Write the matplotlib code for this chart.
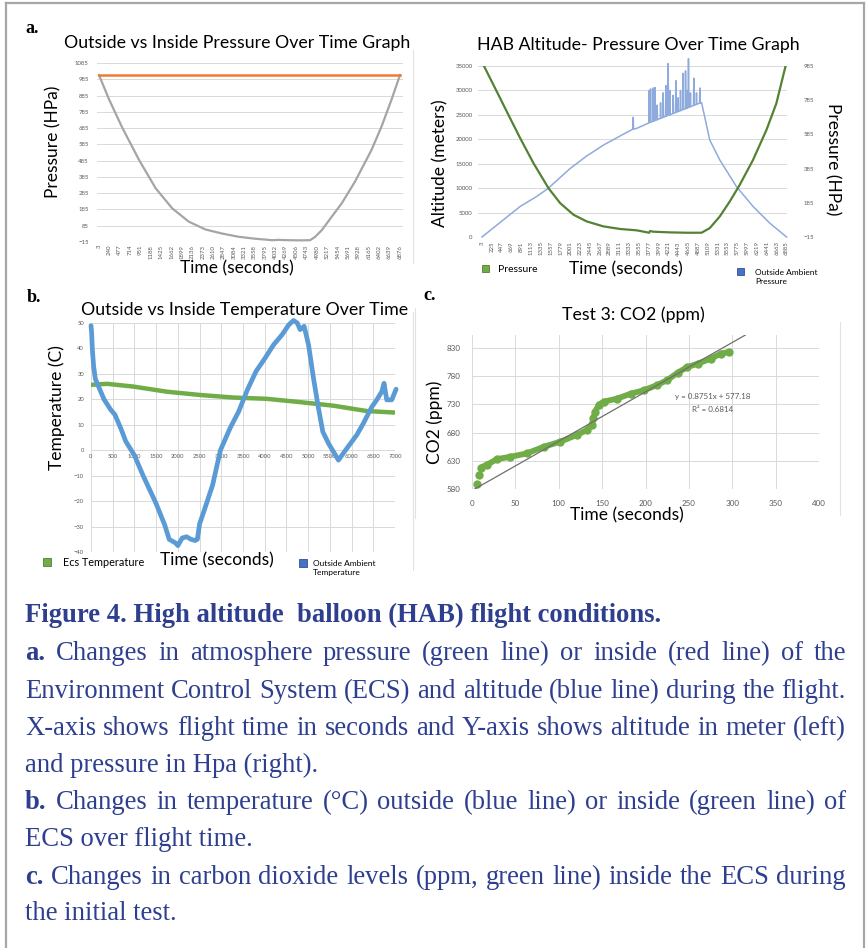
import numpy as np
import matplotlib
matplotlib.use('Agg')
import matplotlib.pyplot as plt
from matplotlib.patches import Rectangle

W, H = 867, 948

# panel a (left): outside / inside pressure, hPa
press_out_time = [3, 231, 535, 914, 1294, 1674, 2053, 2433, 2813, 3193, 3572, 3800,
                  3952, 4100, 4332, 4600, 4825, 4939, 5091, 5319, 5547, 5851, 6230,
                  6458, 6686, 6876]
press_out_val = [1011, 862, 687, 491, 316, 192, 110, 62, 37, 17, 5, 0, -4, -2, -4,
                 -5, -4, 17, 58, 141, 223, 357, 553, 697, 862, 1011]
press_in_time = [3, 6876]
press_in_val = [1012, 1012]
time_ticks_a = list(range(3, 6877, 237))

# panel a (right): altitude (m) and pressure (hPa)
alt_time = [3, 489, 865, 1241, 1504, 1992, 2368, 2744, 3120, 3496, 3760, 4200, 4600,
            4965, 5150, 5376, 5752, 6128, 6504, 6885]
alt_val = [0, 3530, 6250, 8300, 10000, 14000, 16580, 18800, 20660, 22220, 23300,
           24900, 26300, 27500, 19845, 15770, 10330, 6250, 2850, 0]
# short altitude spikes near float altitude
spike_time = [3421, 3782, 3812, 3872, 3910, 3962, 4038, 4098, 4158, 4211, 4248, 4323,
              4383, 4436, 4489, 4549, 4602, 4647, 4669, 4714, 4789, 4850, 4925]
spike_base = [22100, 23400, 23500, 23700, 23830, 24010, 24280, 24490, 24700, 24890,
              25020, 25290, 25500, 25690, 25870, 26090, 26270, 26430, 26510, 26670,
              26930, 27150, 27410]
spike_peak = [24500, 30000, 30300, 30500, 30600, 27000, 27500, 29500, 31000, 35500,
              30000, 29000, 32000, 28500, 30000, 33500, 34000, 30000, 36500, 29500,
              32500, 29500, 30500]
hab_p_time = [3, 341, 642, 868, 1168, 1507, 1770, 2071, 2371, 2747, 3123, 3499, 3780,
              3800, 3875, 4251, 4627, 4965, 5150, 5376, 5602, 5827, 6128, 6429, 6654,
              6885]
hab_p_val = [1008, 834, 678, 562, 416, 270, 183, 115, 76, 47, 32, 24, 10, 20, 16, 12,
             10, 10, 37, 105, 193, 290, 436, 610, 766, 1008]
time_ticks_b = list(range(3, 6886, 222))

# panel b: temperature (C)
temp_out_time = [0, 15, 30, 60, 100, 200, 300, 450, 550, 700, 800, 1000, 1200, 1500,
                 1700, 1800, 1950, 2000, 2100, 2200, 2300, 2400, 2450, 2500, 2600,
                 2800, 2980, 3200, 3400, 3600, 3800, 4000, 4207, 4400, 4555, 4663,
                 4750, 4816, 4908, 5008, 5123, 5238, 5337, 5468, 5698, 5890, 6120,
                 6273, 6465, 6580, 6695, 6748, 6810, 6925, 7025]
temp_out_val = [49, 46, 40, 33, 28, 24, 20, 16, 14, 8, 3.5, -2, -10, -21, -29.5, -35,
                -36.5, -37.5, -34.5, -34, -35, -35.5, -35, -29, -24, -13.7, 0, 8.6,
                15.2, 23.7, 31, 36, 41.5, 45.4, 49.3, 51, 50, 47.4, 48.7, 41.5, 28.3,
                16.5, 7.3, 2.7, -3.9, 0.7, 6, 10.6, 17, 19.8, 23, 26.3, 19.8, 19.8, 24]
temp_in_time = [0, 368, 981, 1748, 2515, 3282, 4049, 4816, 5583, 6350, 7002]
temp_in_val = [25.7, 26.1, 25, 23, 21.7, 20.7, 20.2, 18.9, 17.5, 15.4, 14.8]

# panel c: CO2 (ppm) and linear fit
co2_time = [6, 8.5, 10, 17, 29, 44, 63, 83, 102, 121, 133, 138, 140, 142, 146, 152,
            167, 183, 198, 213, 225, 237, 248, 260, 275, 287, 296]
co2_val = [589, 605, 618, 623, 633, 637, 643, 655, 664, 676, 685, 694, 705, 717, 729,
           735, 740, 749, 755, 764, 773, 786, 796, 802, 811, 820, 823]
fit_slope, fit_intercept = 0.8751, 577.18
fit_range = [3, 315]

plt.rcParams['font.family'] = ['Lato', 'DejaVu Sans']
TICK_C = '#595959'
GRID_C = '#d9d9d9'

fig = plt.figure(figsize=(W / 100, H / 100), dpi=100)


def box(l, t, r, b):
    # pixel box (top-down) -> figure fraction
    return [l / W, 1 - b / H, (r - l) / W, (b - t) / H]


def style(ax, size):
    for s in ax.spines.values():
        s.set_visible(False)
    ax.tick_params(length=0, labelsize=size, labelcolor=TICK_C)
    ax.set_axisbelow(True)


# ---- a, left
ax1 = fig.add_axes(box(97, 63, 403, 242))
ax1.plot(press_out_time, press_out_val, color='#a5a5a5', lw=1.6)
ax1.plot(press_in_time, press_in_val, color='#ed7d31', lw=1.8)
ax1.set_xlim(-43, 6945)
ax1.set_ylim(-15, 1085)
ax1.set_yticks(range(-15, 1086, 100))
ax1.set_xticks(time_ticks_a)
ax1.set_xticklabels([str(t) for t in time_ticks_a], rotation=90)
ax1.yaxis.grid(True, color=GRID_C, lw=0.7)
style(ax1, 4.3)
ax1.tick_params(axis='x', pad=2)
ax1.tick_params(axis='y', pad=6)

# ---- a, right
# altitude line: the smooth track plus the spikes, in time order
pts = list(zip(alt_time, alt_val))
for t, b, p in zip(spike_time, spike_base, spike_peak):
    pts += [(t - 6, b), (t, p), (t + 6, b)]
pts.sort()
ax2 = fig.add_axes(box(478, 66, 787, 237))
ax2.plot([p[0] for p in pts], [p[1] for p in pts], color='#8faadc', lw=1.1,
         clip_on=False)
ax2.set_xlim(-87, 6895)
ax2.set_ylim(0, 35000)
ax2.set_yticks(range(0, 35001, 5000))
ax2.set_xticks(time_ticks_b)
ax2.set_xticklabels([str(t) for t in time_ticks_b], rotation=90)
ax2.yaxis.grid(True, color=GRID_C, lw=0.7)
style(ax2, 4.3)
ax2.tick_params(axis='x', pad=3)
ax2.tick_params(axis='y', pad=4)
ax2r = ax2.twinx()
ax2r.plot(hab_p_time, hab_p_val, color='#548235', lw=1.6)
ax2r.set_ylim(-15, 985)
ax2r.set_yticks(range(-15, 986, 200))
style(ax2r, 4.3)
ax2r.tick_params(axis='y', pad=12)

# ---- b
ax3 = fig.add_axes(box(91, 323, 395, 552))
ax3.plot(temp_in_time, temp_in_val, color='#70ad47', lw=3.2, solid_capstyle='round')
ax3.plot(temp_out_time, temp_out_val, color='#5b9bd5', lw=3.4,
         solid_joinstyle='round', solid_capstyle='round', clip_on=False)
ax3.set_xlim(0, 7000)
ax3.set_ylim(-40, 50)
ax3.set_xticks(range(0, 7001, 500))
ax3.set_yticks(range(-40, 51, 10))
ax3.grid(True, color=GRID_C, lw=0.7)
style(ax3, 4.2)
ax3.spines['bottom'].set_position(('data', 0))
ax3.tick_params(axis='x', pad=3)
ax3.tick_params(axis='y', pad=5)

# ---- c
ax4 = fig.add_axes(box(472, 335, 819, 489))
ax4.plot(co2_time[2:], co2_val[2:], color='#70ad47', lw=4.2, solid_capstyle='round')
ax4.plot(co2_time, co2_val, 'o', color='#70ad47', ms=5)
fx = np.array(fit_range)
ax4.plot(fx, fit_slope * fx + fit_intercept, color='#6f6f6f', lw=0.9)
ax4.set_xlim(0, 400)
ax4.set_ylim(580, 853)
ax4.set_xticks(range(0, 401, 50))
ax4.set_yticks(range(580, 831, 50))
ax4.grid(True, color=GRID_C, lw=0.7)
style(ax4, 5.8)
ax4.tick_params(axis='x', pad=8)
ax4.tick_params(axis='y', pad=8)

# ---- overlay in pixel coordinates: frame, labels, legends, caption
ov = fig.add_axes([0, 0, 1, 1], zorder=10)
ov.set_xlim(0, W)
ov.set_ylim(H, 0)
ov.axis('off')
ov.patch.set_alpha(0)

ov.plot([6, 6], [3, H], color='#a6a6a6', lw=1.6)
ov.plot([6, 864], [3, 3], color='#a6a6a6', lw=1.6)
ov.plot([864, 864], [3, H], color='#a6a6a6', lw=1.6)
for x, y0, y1 in [(413, 50, 263), (413, 312, 570), (415, 308, 518), (840, 322, 515)]:
    ov.plot([x, x], [y0, y1], color='#e2e2e2', lw=0.8)

serif = 'Liberation Serif'
for s, x, y in [('a.', 25, 28), ('b.', 27, 298), ('c.', 423, 296)]:
    ov.text(x, y, s, family=serif, weight='bold', fontsize=13, va='center')

title_kw = dict(fontsize=12.8, ha='center', va='center')
ov.text(237, 43, 'Outside vs Inside Pressure Over Time Graph', **title_kw)
ov.text(638, 45, 'HAB Altitude- Pressure Over Time Graph', **title_kw)
ov.text(245, 310, 'Outside vs Inside Temperature Over Time', **title_kw)
ov.text(633, 315, 'Test 3: CO2 (ppm)', **title_kw)

lab_kw = dict(fontsize=12.5, ha='center', va='center')
ov.text(237, 268, 'Time (seconds)', **lab_kw)
ov.text(53, 142, 'Pressure (HPa)', rotation=90, **lab_kw)
ov.text(626, 269, 'Time (seconds)', **lab_kw)
ov.text(440, 163, 'Altitude (meters)', rotation=90, **lab_kw)
ov.text(833, 159, 'Pressure (HPa)', rotation=270, **lab_kw)
ov.text(217, 560, 'Time (seconds)', **lab_kw)
ov.text(57, 408, 'Temperature (C)', rotation=90, **lab_kw)
ov.text(627, 515, 'Time (seconds)', **lab_kw)
ov.text(435, 422, 'CO2 (ppm)', rotation=90, **lab_kw)

ov.text(713, 397, 'y = 0.8751x + 577.18', fontsize=5.8, color=TICK_C, ha='center', va='center')
ov.text(713, 410, 'R² = 0.6814', fontsize=5.8, color=TICK_C, ha='center', va='center')

# legends
ov.add_patch(Rectangle((482, 265), 7, 7, facecolor='#70ad47', edgecolor='#507e33', lw=0.6))
ov.text(498, 269, 'Pressure', fontsize=7.5, va='center')
ov.add_patch(Rectangle((737, 268), 7, 7, facecolor='#4472c4', edgecolor='#2f528f', lw=0.6))
ov.text(755, 277, 'Outside Ambient\nPressure', fontsize=6, va='center', linespacing=1.4)
ov.add_patch(Rectangle((43, 558), 8, 8, facecolor='#70ad47', edgecolor='#507e33', lw=0.6))
ov.text(63, 562, 'Ecs Temperature', fontsize=7.8, va='center')
ov.add_patch(Rectangle((299, 559), 8, 8, facecolor='#4472c4', edgecolor='#2f528f', lw=0.6))
ov.text(313, 568, 'Outside Ambient\nTemperature', fontsize=6, va='center', linespacing=1.4)

# caption, justified like the source page
cap_color = '#2e3f8f'
cap_size = 19.2
cap_x0, cap_x1 = 25, 846
caption = [
    ('Figure 4. High altitude  balloon (HAB) flight conditions.', '', False),
    ('a.', 'Changes in atmosphere pressure (green line) or inside (red line) of the', True),
    ('', 'Environment Control System (ECS) and altitude (blue line) during the flight.', True),
    ('', 'X-axis shows flight time in seconds and Y-axis shows altitude in meter (left)', True),
    ('', 'and pressure in Hpa (right).', False),
    ('b.', 'Changes in temperature (°C) outside (blue line) or inside (green line) of', True),
    ('', 'ECS over flight time.', False),
    ('c.', 'Changes in carbon dioxide levels (ppm, green line) inside the ECS during', True),
    ('', 'the initial test.', False),
]
cap_y = [615, 653, 691, 728, 765, 802, 839, 877, 913]

renderer = fig.canvas.get_renderer()


def word_width(s, bold):
    t = ov.text(0, 0, s, fontsize=cap_size, family=serif,
                weight='bold' if bold else 'normal')
    w = t.get_window_extent(renderer).width
    t.remove()
    return w


for (prefix, rest, just), yc in zip(caption, cap_y):
    yb = yc + 7
    if not just:
        if rest:
            ov.text(cap_x0, yb, rest, fontsize=cap_size, family=serif,
                    color=cap_color, va='baseline')
        else:
            ov.text(cap_x0, yb, prefix, fontsize=cap_size, family=serif,
                    weight='bold', color=cap_color, va='baseline')
        continue
    words = [(w, True) for w in prefix.split()] + [(w, False) for w in rest.split()]
    widths = [word_width(w, b) for w, b in words]
    gap = (cap_x1 - cap_x0 - sum(widths)) / (len(words) - 1)
    x = cap_x0
    for (w, b), wd in zip(words, widths):
        ov.text(x, yb, w, fontsize=cap_size, family=serif, color=cap_color,
                weight='bold' if b else 'normal', va='baseline')
        x += wd + gap

fig.savefig('out.png', dpi=100)
